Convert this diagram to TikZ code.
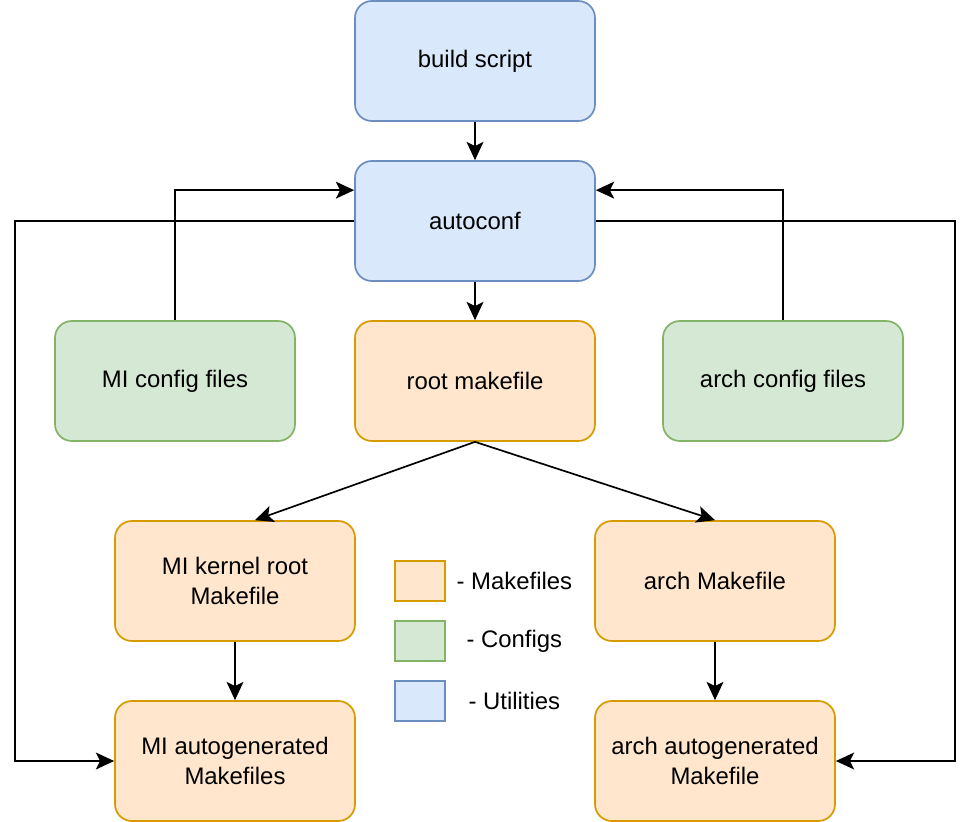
\documentclass[tikz,border=0pt]{standalone}
\usepackage{fontspec}
\setmainfont{Liberation Sans}
\usepackage{xcolor}
\usepackage{tikz}
\usetikzlibrary{arrows.meta, positioning}

\definecolor{mkfill}{HTML}{FFE6CC}
\definecolor{mkline}{HTML}{D79B00}
\definecolor{cfgfill}{HTML}{D5E8D4}
\definecolor{cfgline}{HTML}{82B366}
\definecolor{utilfill}{HTML}{DAE8FC}
\definecolor{utilline}{HTML}{6C8EBF}

\begin{document}
\begin{tikzpicture}[>={Stealth[length=13pt, width=12pt, inset=3pt]},
    every node/.style={font=\fontsize{17}{21.3}\selectfont, align=center},
    blk/.style={rectangle, rounded corners=0.42cm, minimum width=6cm, minimum height=3cm, line width=1.2pt},
    mkbox/.style={blk, draw=mkline, fill=mkfill},
    cfgbox/.style={blk, draw=cfgline, fill=cfgfill},
    utilbox/.style={blk, draw=utilline, fill=utilfill},
    legbox/.style={rectangle, minimum width=1.25cm, minimum height=1cm, line width=1.2pt},
    arr/.style={->, line width=1.2pt}]
    \useasboundingbox (0,0) rectangle (24.3,-20.55);

    % 1. Các khối chính
    \node[utilbox] (build) at (11.875,-1.525) {build script};
    \node[utilbox] (autoconf) at (11.875,-5.525) {autoconf};
    \node[cfgbox] (micfg) at (4.375,-9.525) {MI config files};
    \node[mkbox] (rootmk) at (11.875,-9.525) {root makefile};
    \node[cfgbox] (archcfg) at (19.575,-9.525) {arch config files};
    \node[mkbox] (mikernel) at (5.875,-14.525) {MI kernel root\\Makefile};
    \node[mkbox] (archmk) at (17.875,-14.525) {arch Makefile};
    \node[mkbox] (miauto) at (5.875,-19.025) {MI autogenerated\\Makefiles};
    \node[mkbox] (archauto) at (17.875,-19.025) {arch autogenerated\\Makefile};

    % 2. Chú thích
    \node[legbox, draw=mkline, fill=mkfill] (legmk) at (10.5,-14.525) {};
    \node[legbox, draw=cfgline, fill=cfgfill] (legcfg) at (10.5,-16.025) {};
    \node[legbox, draw=utilline, fill=utilfill] (legutil) at (10.5,-17.525) {};
    \node (legmktxt) at (12.86,-14.525) {- Makefiles};
    \node (legcfgtxt) at (12.86,-16.025) {- Configs};
    \node (legutiltxt) at (12.86,-17.525) {- Utilities};

    % 3. Các mũi tên
    \coordinate (leftrail) at (0.375,0);
    \coordinate (rightrail) at (23.875,0);
    \draw[arr] (build) -- (autoconf);
    \draw[arr] (autoconf) -- (rootmk);
    \draw[arr] (micfg.north) |- ([yshift=-0.75cm]autoconf.north west);
    \draw[arr] (archcfg.north) |- ([yshift=-0.75cm]autoconf.north east);
    \draw[arr] (autoconf.west) -- (autoconf.west -| leftrail) |- (miauto.west);
    \draw[arr] (autoconf.east) -- (autoconf.east -| rightrail) |- (archauto.east);
    \draw[arr] (rootmk.south) -- ([xshift=0.5cm]mikernel.north);
    \draw[arr] (rootmk.south) -- (archmk.north);
    \draw[arr] (mikernel) -- (miauto);
    \draw[arr] (archmk) -- (archauto);
\end{tikzpicture}
\end{document}
